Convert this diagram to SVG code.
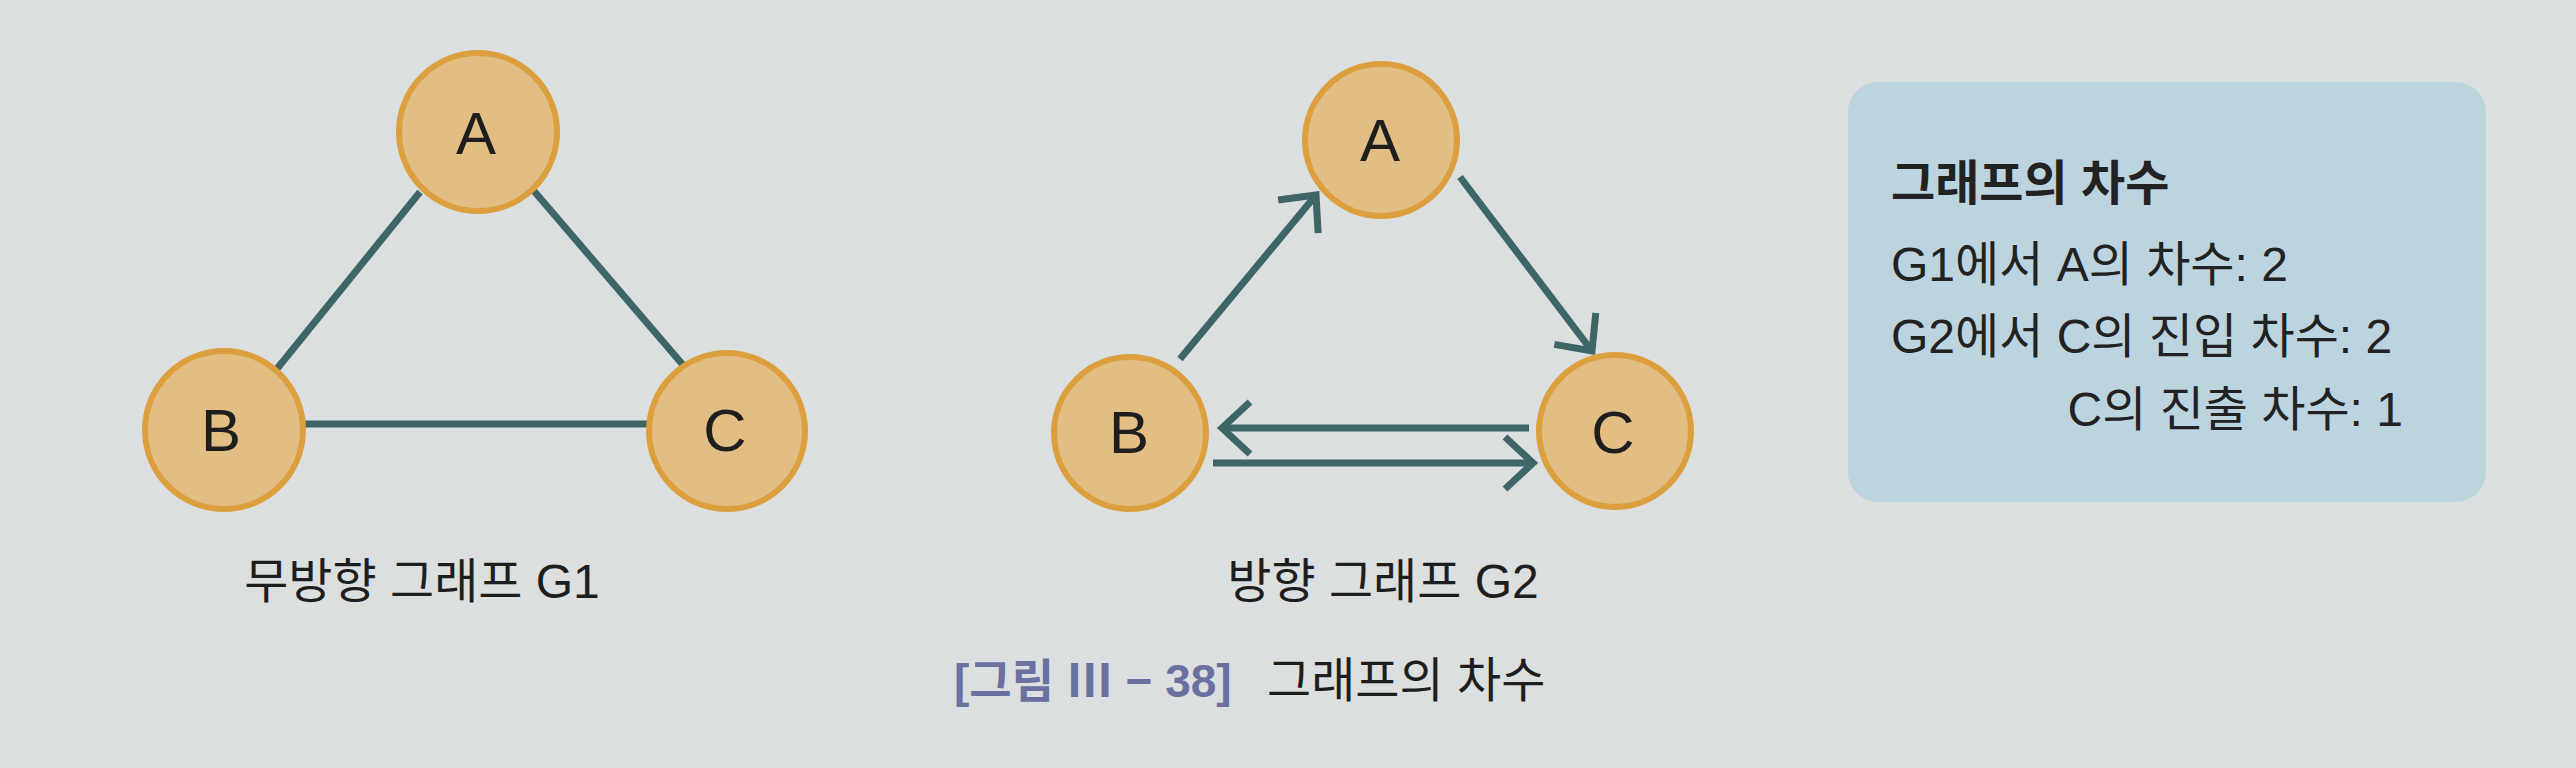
<svg xmlns="http://www.w3.org/2000/svg" width="2576" height="768" viewBox="0 0 2576 768">
<style>
.bg{fill:#dbdfdf}
.node circle{fill:#e2bd84;stroke:#dc9f3e;stroke-width:6}
.node text{font-family:"Liberation Sans","Noto Sans CJK KR",sans-serif;font-size:60px;fill:#1e1e1e;text-anchor:middle}
.edge{stroke:#3e6666;stroke-width:7;fill:none}
.lbl{font-family:"Liberation Sans","Noto Sans CJK KR",sans-serif;font-size:48px;fill:#1e1e1e}
.box{fill:#bcd4df}
.bt{font-family:"Liberation Sans","Noto Sans CJK KR",sans-serif;font-size:48px;fill:#222}
</style>
<defs>
<marker id="arr" markerUnits="userSpaceOnUse" viewBox="-40 -35 50 70" markerWidth="50" markerHeight="70" refX="0" refY="0" orient="auto">
<path d="M-28,-26 L0,0 L-28,26" fill="none" stroke="#3e6666" stroke-width="7"/>
</marker>
</defs>
<rect class="bg" x="0" y="0" width="2576" height="768"/>

<g id="connectors">
<line class="edge" x1="420" y1="192" x2="276" y2="370"/>
<line class="edge" x1="534" y1="191" x2="683" y2="365"/>
<line class="edge" x1="304" y1="424" x2="649" y2="424"/>
<line class="edge" x1="1180" y1="359" x2="1316" y2="195" marker-end="url(#arr)"/>
<line class="edge" x1="1460" y1="177" x2="1592" y2="351" marker-end="url(#arr)"/>
<line class="edge" x1="1529" y1="428" x2="1222" y2="428" marker-end="url(#arr)"/>
<line class="edge" x1="1213" y1="463" x2="1533" y2="463" marker-end="url(#arr)"/>
</g>

<g id="g1-A" class="node"><circle cx="478" cy="132" r="79"/><text x="476" y="154">A</text></g>
<g id="g1-B" class="node"><circle cx="224" cy="430" r="79"/><text x="221" y="451">B</text></g>
<g id="g1-C" class="node"><circle cx="727" cy="431" r="78"/><text x="725" y="451">C</text></g>

<g id="g2-A" class="node"><circle cx="1381" cy="140" r="76"/><text x="1380" y="161">A</text></g>
<g id="g2-B" class="node"><circle cx="1130" cy="433" r="76"/><text x="1129" y="453">B</text></g>
<g id="g2-C" class="node"><circle cx="1615" cy="431" r="76"/><text x="1613" y="453">C</text></g>

<g id="label-g1"><text class="lbl" x="422" y="598" text-anchor="middle">무방향 그래프 G1</text></g>
<g id="label-g2"><text class="lbl" x="1383" y="598" text-anchor="middle">방향 그래프 G2</text></g>

<g id="caption">
<text class="lbl" x="954" y="697"><tspan fill="#6a71a0" font-weight="bold" font-size="46">[그림 Ⅲ − 38]</tspan><tspan x="1267">그래프의 차수</tspan></text>
</g>

<g id="info-box">
<rect class="box" x="1848" y="82" width="638" height="420" rx="30"/>
<text class="bt" x="1891" y="200" font-weight="bold">그래프의 차수</text>
<text class="bt" x="1891" y="281">G1에서 A의 차수: 2</text>
<text class="bt" x="1891" y="353">G2에서 C의 진입 차수: 2</text>
<text class="bt" x="2403" y="426" text-anchor="end">C의 진출 차수: 1</text>
</g>
</svg>
